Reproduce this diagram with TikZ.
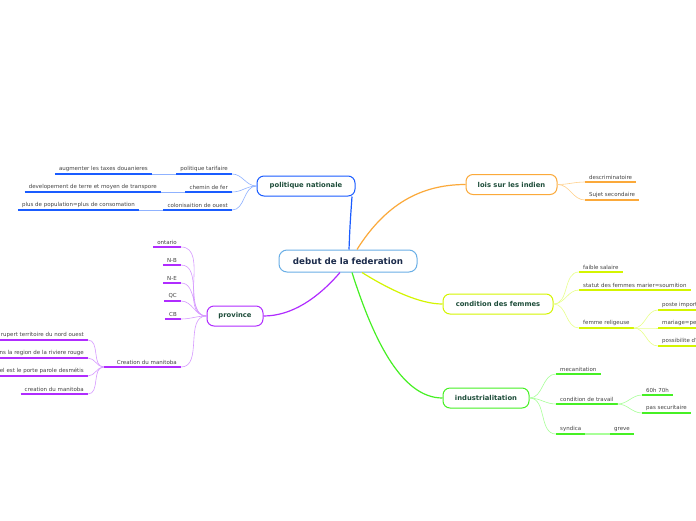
\documentclass[tikz,border=0pt]{standalone}
\usepackage{fontspec}
\setmainfont{DejaVu Sans}
\definecolor{pblue}{HTML}{1A5CFF}
\definecolor{pblueL}{HTML}{8FB2FF}
\definecolor{orng}{HTML}{FBA93A}
\definecolor{orngL}{HTML}{FFD08A}
\definecolor{lime}{HTML}{D4F500}
\definecolor{limeL}{HTML}{E8FF8C}
\definecolor{grn}{HTML}{46F024}
\definecolor{grnL}{HTML}{A8FF98}
\definecolor{purp}{HTML}{B02CFF}
\definecolor{purpL}{HTML}{D79BFF}
\definecolor{cbord}{HTML}{6AAFE6}
\definecolor{ctext}{HTML}{1B2B4B}
\definecolor{ttext}{HTML}{1E4D3A}
\definecolor{stext}{HTML}{444444}
\tikzset{
  central/.style={draw=cbord, line width=1pt, rounded corners=8pt, fill=white,
    minimum width=138pt, minimum height=22pt, text=ctext,
    font=\fontsize{8.7}{10}\selectfont\bfseries},
  topic/.style={line width=1pt, rounded corners=7pt, fill=white,
    minimum height=20pt, text=ttext, font=\fontsize{6.8}{8}\selectfont\bfseries},
  subR/.style={anchor=south west, inner xsep=4pt, inner ysep=2.6pt,
    text=stext, font=\fontsize{5.5}{6.5}\selectfont},
  subL/.style={subR, anchor=south east},
  ul/.style={line width=1.3pt},
  thin/.style={line width=0.6pt},
  mainc/.style={line width=1.2pt},
}
\newcommand{\ulin}[2]{\draw[ul,#1] (#2.south west) -- (#2.south east);}
\begin{document}
\begin{tikzpicture}[x=1pt,y=-1pt]
\clip (0,0) rectangle (696,520);
\fill[white] (0,0) rectangle (696,520);

% central and topics
\node[central] (c) at (348,261) {debut de la federation};
\node[topic, draw=pblue, minimum width=98pt] (pn) at (306,186) {politique nationale};
\node[topic, draw=orng, minimum width=91pt] (li) at (511.5,184.5) {lois sur les indien};
\node[topic, draw=lime, minimum width=110pt] (cf) at (498,304) {condition des femmes};
\node[topic, draw=grn, minimum width=86pt] (in) at (486,398) {industrialitation};
\node[topic, draw=purp, minimum width=56pt] (pr) at (235,316) {province};

% central connectors
\draw[mainc, pblue] ([xshift=1pt]c.north) .. controls (350,225) .. ([xshift=46pt]pn.south);
\draw[mainc, orng] ([xshift=9pt]c.north) .. controls (385,205) and (420,184.5) .. (li.west);
\draw[mainc, lime] ([xshift=14pt]c.south) .. controls (390,290) and (420,304) .. (cf.west);
\draw[mainc, grn] ([xshift=4pt]c.south) .. controls (372,335) and (400,398) .. (in.west);
\draw[mainc, purp] ([xshift=-8pt]c.south) .. controls (318,298) and (292,316) .. (pr.east);

% politique nationale
\node[subL] (pt) at (232,174) {politique tarifaire};
\node[subL] (cd) at (232,192) {chemin de fer};
\node[subL] (co) at (232,210) {colonisaition de ouest};
\node[subL] (au) at (152,174) {augmenter les taxes douanieres};
\node[subL] (de) at (161,192) {developement de terre et moyen de transpore};
\node[subL] (pp) at (139,210) {plus de population=plus de consomation};
\foreach \n in {pt,cd,co,au,de,pp} {\ulin{pblue}{\n}}
\foreach \n in {pt,cd,co} {\draw[thin,pblueL] (pn.west) to[out=180,in=0] (\n.south east);}
\draw[thin,pblueL] (pt.south west) -- (au.south east);
\draw[thin,pblueL] (cd.south west) -- (de.south east);
\draw[thin,pblueL] (co.south west) -- (pp.south east);

% lois sur les indien
\node[subR] (ds) at (585,182) {descriminatoire};
\node[subR] (ss) at (585,200) {Sujet secondaire};
\foreach \n in {ds,ss} {\ulin{orng}{\n}\draw[thin,orngL] (li.east) to[out=0,in=180] (\n.south west);}

% condition des femmes
\node[subR] (fs) at (579,272) {faible salaire};
\node[subR] (st) at (579,290) {statut des femmes marier=soumition};
\node[subR] (fr) at (579,328) {femme religeuse\hspace{9pt}};
\foreach \n in {fs,st,fr} {\ulin{lime}{\n}\draw[thin,limeL] (cf.east) to[out=0,in=180] (\n.south west);}
\node[subR] (pi) at (658,310) {poste import};
\node[subR] (ma) at (658,328) {mariage=pe};
\node[subR] (po) at (658,346) {possibilite d'};
\foreach \n in {pi,ma,po} {\draw[ul,lime] (\n.south west) -- ++(50,0);\draw[thin,limeL] (fr.south east) to[out=0,in=180] (\n.south west);}

% industrialitation
\node[subR] (me) at (556,374) {mecanitation};
\node[subR] (ct) at (556,404) {condition de travail};
\node[subR] (sy) at (556,434) {syndica};
\foreach \n in {me,ct,sy} {\ulin{grn}{\n}\draw[thin,grnL] (in.east) to[out=0,in=180] (\n.south west);}
\node[subR] (h6) at (642,395) {60h 70h};
\node[subR] (ps) at (642,413) {pas securitaire};
\node[subR] (gr) at (610,434) {greve};
\foreach \n in {h6,ps} {\ulin{grn}{\n}\draw[thin,grnL] (ct.south east) to[out=0,in=180] (\n.south west);}
\ulin{grn}{gr}
\draw[ul,grnL] (sy.south east) -- (gr.south west);

% province
\node[subL] (on) at (181,247) {ontario};
\node[subL] (nb) at (181,265) {N-B};
\node[subL] (ne) at (181,283) {N-E};
\node[subL] (qc) at (181,301) {QC};
\node[subL] (cb) at (181,319) {CB};
\node[subL] (cm) at (181,367) {\hspace{9pt}Creation du manitoba};
\foreach \n in {on,nb,ne,qc,cb,cm} {\ulin{purp}{\n}\draw[thin,purpL] (pr.west) to[out=180,in=0] (\n.south east);}
\node[subL] (r1) at (88,340) {rupert territoire du nord ouest};
\node[subL] (r2) at (88,358) {ns la region de la riviere rouge};
\node[subL] (r3) at (88,376) {el est le porte parole desmétis};
\node[subL] (r4) at (88,394) {creation du manitoba};
\foreach \n in {r1,r2,r3,r4} {\ulin{purp}{\n}\draw[thin,purpL] (cm.south west) to[out=180,in=0] (\n.south east);}
\end{tikzpicture}
\end{document}
